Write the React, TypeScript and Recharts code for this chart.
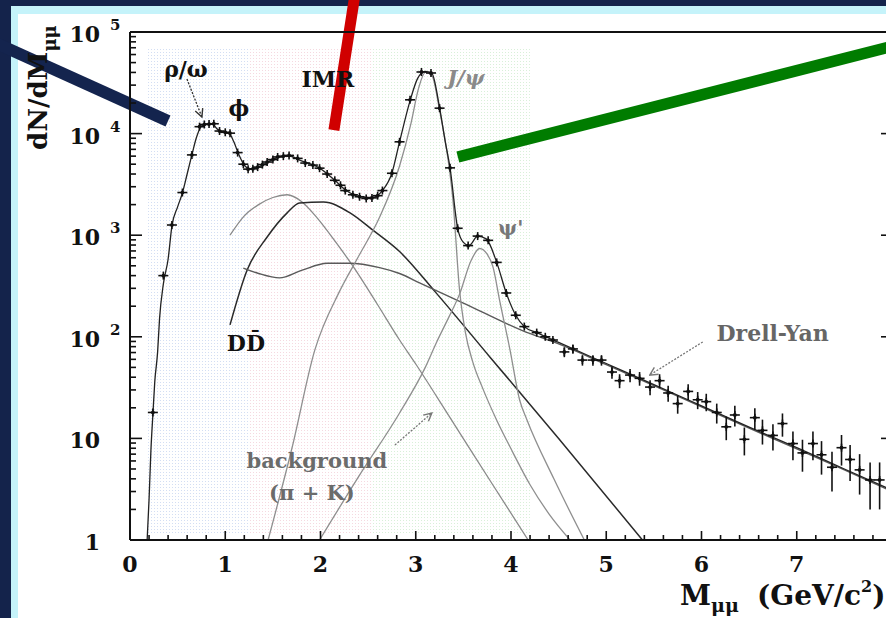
import React from 'react';
import {
  ComposedChart,
  Line,
  Scatter,
  ErrorBar,
  XAxis,
  YAxis,
  ReferenceLine,
  ReferenceArea,
} from 'recharts';

// axis ticks: minor every 0.2 GeV, labels on integers (8 sits past the crop)
const X_TICKS = [0, 0.2, 0.4, 0.6, 0.8, 1, 1.2, 1.4, 1.6, 1.8, 2, 2.2, 2.4, 2.6, 2.8, 3, 3.2, 3.4, 3.6, 3.8, 4, 4.2, 4.4, 4.6, 4.8, 5, 5.2, 5.4, 5.6, 5.8, 6, 6.2, 6.4, 6.6, 6.8, 7, 7.2, 7.4, 7.6, 7.8, 8];
const X_LABELS = ['0', '1', '2', '3', '4', '5', '6', '7', ''];
const Y_TICKS = [1, 2, 3, 4, 5, 6, 7, 8, 9, 10, 20, 30, 40, 50, 60, 70, 80, 90, 100, 200, 300, 400, 500, 600, 700, 800, 900, 1000, 2000, 3000, 4000, 5000, 6000, 7000, 8000, 9000, 10000, 20000, 30000, 40000, 50000, 60000, 70000, 80000, 90000, 100000];
const Y_DECADES = [1, 10, 100, 1000, 10000, 100000];
const Y_BASE = ['1', '10', '10', '10', '10', '10'];
const Y_EXP = ['', '', '2', '3', '4', '5'];

// [mass, dN/dM]
const totalFit = [
  [0.18, 1], [0.2, 2.5], [0.22, 7.8], [0.24, 17], [0.26, 36], [0.29, 71], [0.31, 150], [0.35, 330],
  [0.4, 580], [0.44, 1230], [0.5, 1900], [0.55, 2600], [0.6, 4000], [0.65, 6200], [0.7, 9300],
  [0.75, 11900], [0.8, 12400], [0.86, 12500], [0.92, 11000], [0.97, 10400], [1.04, 10100],
  [1.09, 8300], [1.14, 6300], [1.2, 4900], [1.26, 4500], [1.34, 4650], [1.44, 5200], [1.55, 5850],
  [1.66, 6050], [1.8, 5400], [1.99, 4570], [2.15, 3470], [2.26, 2800], [2.41, 2400], [2.54, 2350],
  [2.65, 2750], [2.75, 4100], [2.83, 8300], [2.94, 21000], [3.02, 35000], [3.1, 41000], [3.17, 39000],
  [3.25, 18000], [3.31, 8300], [3.36, 4600], [3.44, 1170], [3.5, 850], [3.56, 790], [3.65, 980],
  [3.74, 920], [3.85, 540], [3.95, 270], [4.05, 163], [4.14, 126], [4.27, 110], [4.5, 88], [5.0, 54.6],
  [5.5, 33.9], [6.0, 20.9], [6.5, 12.9], [7.0, 8.1], [7.5, 5.0], [8.0, 3.1],
];
const background = [
  [1.05, 1000], [1.2, 1550], [1.35, 2000], [1.5, 2350], [1.65, 2500], [1.8, 2150], [1.96, 1500],
  [2.17, 830], [2.33, 513], [2.59, 214], [2.83, 93], [3.0, 54], [3.36, 16], [3.8, 3.6], [4.18, 1],
];
const openCharm = [
  [1.05, 131], [1.23, 455], [1.44, 960], [1.65, 1660], [1.78, 2080], [2.03, 2120], [2.31, 1660],
  [2.55, 1120], [2.83, 690], [3.2, 280], [3.78, 63], [4.5, 10], [5.38, 1],
];
const drellYan = [
  [1.19, 475], [1.35, 420], [1.57, 380], [1.8, 450], [2.07, 530], [2.3, 530], [2.62, 480], [2.83, 420],
  [3.04, 340], [3.5, 215], [4.12, 115], [4.5, 85], [5.0, 53.3], [5.5, 33.1], [6.0, 20.4], [6.5, 12.6],
  [7.0, 7.9], [7.5, 4.9], [8.0, 3.0],
];
const jpsi = [
  [1.45, 1], [1.7, 8], [1.94, 74], [2.2, 280], [2.4, 620], [2.62, 1500], [2.83, 4800], [2.95, 12600],
  [3.03, 28000], [3.1, 40000], [3.17, 37000], [3.25, 17000], [3.34, 5500], [3.39, 2240], [3.46, 288],
  [3.52, 112], [3.6, 56], [3.7, 31.6], [3.85, 15.1], [4.0, 7.9], [4.2, 3.5], [4.4, 1.8], [4.62, 1],
];
const psiPrime = [
  [1.99, 1], [2.4, 4.2], [2.83, 17.8], [3.1, 50], [3.22, 89], [3.35, 158], [3.46, 263], [3.58, 560],
  [3.67, 740], [3.75, 650], [3.81, 490], [3.88, 230], [3.99, 74], [4.09, 24], [4.17, 15], [4.45, 4],
  [4.77, 1],
];
// [mass, counts, stat error]
const measured = [
  [0.24, 18, 0], [0.35, 400, 0], [0.44, 1260, 0], [0.55, 2630, 0], [0.65, 6170, 0], [0.73, 11700, 0],
  [0.78, 12300, 0], [0.83, 12400, 0], [0.88, 12500, 0], [0.94, 10600, 0], [1.0, 10300, 0],
  [1.05, 10100, 0], [1.13, 6500, 0], [1.19, 5000, 0], [1.24, 4470, 0], [1.29, 4500, 0], [1.34, 4680, 0],
  [1.39, 4950, 0], [1.44, 5250, 0], [1.5, 5550, 0], [1.55, 5890, 0], [1.61, 6000, 0], [1.67, 6100, 0],
  [1.76, 5700, 0], [1.84, 5130, 0], [1.92, 4900, 0], [1.99, 4570, 0], [2.07, 4000, 0], [2.15, 3470, 0],
  [2.21, 3100, 0], [2.26, 2750, 0], [2.34, 2500, 0], [2.41, 2390, 0], [2.48, 2300, 0], [2.54, 2330, 0],
  [2.6, 2450, 0], [2.65, 2750, 0], [2.75, 4070, 0], [2.83, 8300, 0], [2.94, 21500, 0], [3.06, 40400, 0],
  [3.16, 39500, 0], [3.25, 17800, 0], [3.36, 4600, 0], [3.44, 1170, 0], [3.55, 790, 0], [3.65, 980, 0],
  [3.76, 890, 0], [3.85, 540, 0], [3.95, 270, 0], [4.05, 163, 0], [4.14, 126, 0], [4.27, 110, 0],
  [4.36, 100, 0], [4.44, 93, 0], [4.56, 71, 8], [4.65, 76, 8], [4.75, 59, 7], [4.86, 59, 7],
  [4.95, 59, 7], [5.06, 45, 6.4], [5.14, 37, 5.8], [5.25, 42, 6.2], [5.35, 39, 6], [5.46, 32, 5.4],
  [5.56, 37, 5.8], [5.65, 28, 5], [5.75, 22, 4.5], [5.86, 29, 5.1], [5.96, 24, 4.6], [6.05, 23, 4.5],
  [6.16, 18, 4], [6.26, 13, 3.4], [6.35, 17, 3.9], [6.45, 9.8, 3], [6.56, 16, 3.8], [6.64, 12, 3.3],
  [6.75, 10.7, 3.1], [6.85, 14, 3.6], [6.96, 8.9, 2.8], [7.06, 7.2, 2.5], [7.17, 8.9, 2.8],
  [7.26, 6.9, 2.5], [7.37, 5.2, 2.2], [7.47, 8.1, 2.7], [7.56, 6.2, 2.4], [7.66, 4.9, 2.1],
  [7.77, 3.9, 1.9], [7.87, 3.9, 1.9],
];

// annotation texts placed in data coordinates
const notes = [
  { id: 'rho', x: 0.588, y: 43300, text: 'ρ/ω' },
  { id: 'phi', x: 1.144, y: 17900, text: 'ϕ' },
  { id: 'imr', x: 2.078, y: 34400, text: 'IMR' },
  { id: 'jpsi', x: 3.526, y: 36000, text: 'J/ψ' },
  { id: 'psip', x: 3.998, y: 1180, text: "ψ'" },
  { id: 'dd', x: 1.217, y: 87, text: 'DD\u0304' },
  { id: 'dy', x: 6.747, y: 109, text: 'Drell-Yan' },
  { id: 'bg', x: 1.962, y: 6.0, text: 'background' },
  { id: 'bg2', x: 1.91, y: 2.96, text: '(π + K)' },
];
// little pointer arrows [from, to]
const arrows = [
  { id: 'rho', from: [0.598, 34400], to: [0.755, 14560] },
  { id: 'dy', from: [6.013, 89], to: [5.456, 42] },
  { id: 'bg', from: [2.781, 8.6], to: [3.169, 17.8] },
];
// thick coloured pointers drawn over the figure
const pointers = [
  { id: 'navy', from: [-1.469, 82500], to: [0.399, 13300] },
  { id: 'red', from: [2.361, 231000], to: [2.141, 10840] },
  { id: 'green', from: [3.442, 5890], to: [8.08, 75500] },
];
const shadedBands = [
  { id: 'dotsBlue', x1: 0.18, x2: 1.26 },
  { id: 'dotsPink', x1: 1.26, x2: 2.55 },
  { id: 'dotsGreen', x1: 2.55, x2: 4.2 },
];

const SERIF = '"DejaVu Serif", "Liberation Serif", serif';
const INK = '#111';

const noteStyle: Record<string, { size: number; fill: string; italic?: boolean }> = {
  rho: { size: 22, fill: '#111' },
  phi: { size: 22, fill: '#111' },
  imr: { size: 22, fill: '#111' },
  jpsi: { size: 21, fill: '#8a8a8a', italic: true },
  psip: { size: 20, fill: '#777' },
  dd: { size: 22, fill: '#111' },
  dy: { size: 22, fill: '#666' },
  bg: { size: 21, fill: '#6b6b6b' },
  bg2: { size: 21, fill: '#6b6b6b' },
};
const arrowColor: Record<string, string> = { rho: '#333', dy: '#777', bg: '#777' };
const pointerStyle: Record<string, { color: string; width: number }> = {
  navy: { color: '#14244e', width: 12 },
  red: { color: '#d00000', width: 11 },
  green: { color: '#007c00', width: 11.5 },
};

const toPts = (rows: number[][]) => rows.map(([x, y]) => ({ x, y }));

const BottomTick = (p: any) => {
  const v = p.payload.value;
  const major = Number.isInteger(v);
  return (
    <g>
      <line x1={p.x} x2={p.x} y1={p.y} y2={p.y - (major ? 9 : 5)} stroke={INK} strokeWidth={1.6} />
      {major && X_LABELS[v] && (
        <text x={p.x} y={p.y + 32} textAnchor="middle" fontFamily={SERIF} fontWeight="bold" fontSize={22} fill={INK}>
          {X_LABELS[v]}
        </text>
      )}
    </g>
  );
};

const TopTick = (p: any) => {
  const major = Number.isInteger(p.payload.value);
  return <line x1={p.x} x2={p.x} y1={p.y} y2={p.y + (major ? 10 : 5)} stroke={INK} strokeWidth={1.6} />;
};

const LeftTick = (p: any) => {
  const i = Y_DECADES.indexOf(p.payload.value);
  const major = i >= 0;
  return (
    <g>
      <line x1={p.x} x2={p.x + (major ? 12 : 6)} y1={p.y} y2={p.y} stroke={INK} strokeWidth={1.6} />
      {major && (
        <text x={p.x - 30} y={p.y + 10} textAnchor="end" fontFamily={SERIF} fontWeight="bold" fontSize={22} fill={INK}>
          {Y_BASE[i]}
        </text>
      )}
      {major && Y_EXP[i] && (
        <text x={p.x - 20} y={p.y - 2} fontFamily={SERIF} fontWeight="bold" fontSize={15} fill={INK}>
          {Y_EXP[i]}
        </text>
      )}
    </g>
  );
};

const RightTick = (p: any) => {
  const major = Y_DECADES.indexOf(p.payload.value) >= 0;
  return <line x1={p.x} x2={p.x - (major ? 11 : 6)} y1={p.y} y2={p.y} stroke={INK} strokeWidth={1.6} />;
};

const Cross = (p: any) => {
  if (p.cx == null || p.cy == null) return <g />;
  return (
    <g>
      <line x1={p.cx - 5} x2={p.cx + 5} y1={p.cy} y2={p.cy} stroke={INK} strokeWidth={1.6} />
      <line x1={p.cx} x2={p.cx} y1={p.cy - 4} y2={p.cy + 4} stroke={INK} strokeWidth={1.6} />
      <circle cx={p.cx} cy={p.cy} r={1.9} fill={INK} />
    </g>
  );
};

const NoteText = (p: any) => {
  const n = p.payload;
  if (!n || p.cx == null) return <g />;
  const s = noteStyle[n.id];
  return (
    <text
      x={p.cx}
      y={p.cy}
      textAnchor="middle"
      dominantBaseline="central"
      fontFamily={SERIF}
      fontWeight="bold"
      fontStyle={s.italic ? 'italic' : 'normal'}
      fontSize={s.size}
      fill={s.fill}
    >
      {n.text}
    </text>
  );
};

const YTitle = () => (
  <text transform="translate(47,150) rotate(-90)" fontFamily={SERIF} fontWeight="bold" fontSize={26} fill={INK}>
    dN/dM
    <tspan dy={9} fontSize={18}>μμ</tspan>
  </text>
);

const XTitle = () => (
  <text x={680} y={605} fontFamily={SERIF} fontWeight="bold" fontSize={28} fill={INK}>
    M
    <tspan dy={7} fontSize={19}>μμ</tspan>
    <tspan x={757} dy={-7}>(GeV/c</tspan>
    <tspan dy={-13} fontSize={16}>2</tspan>
    <tspan dy={13}>)</tspan>
  </text>
);

export default function App() {
  const total = toPts(totalFit);
  const points = measured.map(([x, y, err]) => ({ x, y, err }));

  const curve = (data: { x: number; y: number }[], color: string, width: number, key: string) => (
    <Line
      key={key}
      data={data}
      dataKey="y"
      type="monotone"
      stroke={color}
      strokeWidth={width}
      dot={false}
      activeDot={false}
      isAnimationActive={false}
    />
  );

  return (
    <div style={{ position: 'fixed', left: 0, top: 0, width: 886, height: 618, overflow: 'hidden', background: '#14234b' }}>
      <div style={{ position: 'absolute', left: 11, top: 6, right: 0, bottom: 0, background: '#c5f3fa' }} />
      <div style={{ position: 'absolute', left: 18, top: 14, right: 0, bottom: 0, background: '#ffffff' }} />
      <div style={{ position: 'absolute', left: 0, top: 0 }}>
        <ComposedChart width={920} height={618} margin={{ top: 22, right: 18, bottom: 48, left: 70 }}>
          <defs>
            <pattern id="dotsBlue" width="3" height="3" patternUnits="userSpaceOnUse">
              <rect x="1" y="1" width="1" height="1" fill="#d3def3" />
            </pattern>
            <pattern id="dotsPink" width="3" height="3" patternUnits="userSpaceOnUse">
              <rect x="1" y="1" width="1" height="1" fill="#f5d9e0" />
            </pattern>
            <pattern id="dotsGreen" width="3" height="3" patternUnits="userSpaceOnUse">
              <rect x="1" y="1" width="1" height="1" fill="#d9f0d9" />
            </pattern>
            {arrows.map((a) => (
              <marker key={a.id} id={`arrow-${a.id}`} markerWidth="10" markerHeight="10" refX="9" refY="5" orient="auto" markerUnits="userSpaceOnUse">
                <path d="M1,1 L9,5 L1,9" fill="none" stroke={arrowColor[a.id]} strokeWidth="1.4" />
              </marker>
            ))}
          </defs>

          <XAxis
            dataKey="x"
            type="number"
            domain={[0, 8]}
            ticks={X_TICKS}
            interval={0}
            allowDataOverflow
            tickSize={0}
            tickMargin={0}
            tickLine={false}
            tick={(p: any) => <BottomTick {...p} />}
            axisLine={{ stroke: INK, strokeWidth: 2 }}
            height={30}
            label={{ content: () => <XTitle /> }}
          />
          <XAxis
            xAxisId="top"
            orientation="top"
            type="number"
            domain={[0, 8]}
            ticks={X_TICKS}
            interval={0}
            allowDataOverflow
            tickSize={0}
            tickMargin={0}
            tickLine={false}
            tick={(p: any) => <TopTick {...p} />}
            axisLine={{ stroke: INK, strokeWidth: 2 }}
            height={10}
          />
          <YAxis
            type="number"
            scale="log"
            domain={[1, 100000]}
            ticks={Y_TICKS}
            interval={0}
            allowDataOverflow
            tickSize={0}
            tickMargin={0}
            tickLine={false}
            tick={(p: any) => <LeftTick {...p} />}
            axisLine={{ stroke: INK, strokeWidth: 2 }}
            width={60}
            label={{ content: () => <YTitle /> }}
          />
          <YAxis
            yAxisId="right"
            orientation="right"
            type="number"
            scale="log"
            domain={[1, 100000]}
            ticks={Y_TICKS}
            interval={0}
            allowDataOverflow
            tickSize={0}
            tickMargin={0}
            tickLine={false}
            tick={(p: any) => <RightTick {...p} />}
            axisLine={{ stroke: INK, strokeWidth: 2 }}
            width={10}
          />

          {shadedBands.map((b) => (
            <ReferenceArea key={b.id} x1={b.x1} x2={b.x2} y1={1.12} y2={69700} fill={`url(#${b.id})`} fillOpacity={1} stroke="none" />
          ))}

          {curve(toPts(background), '#8a8a8a', 1.3, 'bg')}
          {curve(toPts(openCharm), '#2a2a2a', 1.5, 'dd')}
          {curve(toPts(drellYan), '#5a5a5a', 1.4, 'dy')}
          {curve(toPts(jpsi), '#8f8f8f', 1.3, 'jpsi')}
          {curve(toPts(psiPrime), '#8f8f8f', 1.3, 'psip')}
          {curve(total, '#222', 1.3, 'total')}

          <Scatter data={points} dataKey="y" shape={(p: any) => <Cross {...p} />} isAnimationActive={false}>
            <ErrorBar dataKey="err" direction="y" width={0} stroke={INK} strokeWidth={1.6} isAnimationActive={false} />
          </Scatter>

          <Scatter data={notes} dataKey="y" shape={(p: any) => <NoteText {...p} />} isAnimationActive={false} />

          {arrows.map((a) => (
            <ReferenceLine
              key={a.id}
              segment={[{ x: a.from[0], y: a.from[1] }, { x: a.to[0], y: a.to[1] }]}
              ifOverflow="visible"
              shape={(p: any) => (
                <line
                  x1={p.x1}
                  y1={p.y1}
                  x2={p.x2}
                  y2={p.y2}
                  stroke={arrowColor[a.id]}
                  strokeWidth={1.3}
                  strokeDasharray="2 1.5"
                  markerEnd={`url(#arrow-${a.id})`}
                />
              )}
            />
          ))}

          {pointers.map((l) => (
            <ReferenceLine
              key={l.id}
              segment={[{ x: l.from[0], y: l.from[1] }, { x: l.to[0], y: l.to[1] }]}
              ifOverflow="visible"
              stroke={pointerStyle[l.id].color}
              strokeWidth={pointerStyle[l.id].width}
            />
          ))}
        </ComposedChart>
      </div>
    </div>
  );
}
